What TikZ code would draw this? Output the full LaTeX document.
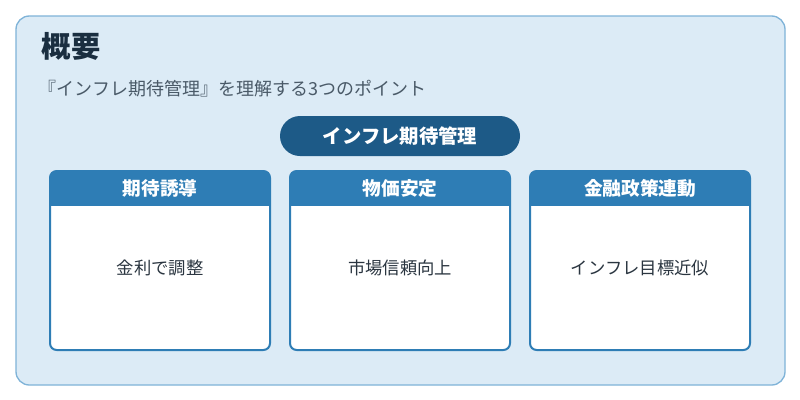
\documentclass[tikz,border=0pt]{standalone}
\usepackage{fontspec}
\setmainfont{Noto Sans CJK JP}
\definecolor{panel}{HTML}{DCEBF6}
\definecolor{panelb}{HTML}{7FB3D8}
\definecolor{pill}{HTML}{1D5A87}
\definecolor{head}{HTML}{2E7DB5}
\definecolor{titlec}{HTML}{1A2E40}
\definecolor{subc}{HTML}{4A5A68}
\definecolor{bodyc}{HTML}{2A3540}
\begin{document}
\begin{tikzpicture}[x=0.75pt,y=-0.75pt,
  cardbody/.style={draw=head,line width=1.5pt,rounded corners=5pt},
  headtxt/.style={text=white,font=\fontsize{14}{16}\selectfont\bfseries},
  bodytxt/.style={text=bodyc,font=\fontsize{13}{15}\selectfont}]
\useasboundingbox (0,0) rectangle (800,400);
\fill[white] (0,0) rectangle (800,400);
\draw[panelb,fill=panel,line width=1pt,rounded corners=10pt] (16,16) rectangle (785,385);
\node[anchor=west,text=titlec,font=\fontsize{22}{26}\selectfont\bfseries] (title) at (37,46) {概要};
\node[anchor=west,text=subc,font=\fontsize{13.5}{16}\selectfont] (sub) at (34,89) {『インフレ期待管理』を理解する3つのポイント};
\node[fill=pill,rounded corners=15pt,minimum width=180pt,minimum height=30pt,text=white,font=\fontsize{14.5}{17}\selectfont\bfseries] (pill) at (400,136) {インフレ期待管理};
\foreach \cx/\h/\b/\n in {160/期待誘導/金利で調整/a, 400/物価安定/市場信頼向上/b, 640/金融政策連動/インフレ目標近似/c}{
  \fill[white,rounded corners=5pt] (\cx-110,171) rectangle (\cx+110,350);
  \begin{scope}
  \clip[rounded corners=5pt] (\cx-110,171) rectangle (\cx+110,350);
  \fill[head] (\cx-110,171) rectangle (\cx+110,206);
  \end{scope}
  \draw[cardbody] (\cx-110,171) rectangle (\cx+110,350);
  \node[headtxt] (h\n) at (\cx,188) {\h};
  \node[bodytxt] (b\n) at (\cx,268) {\b};
}
\end{tikzpicture}
\end{document}
